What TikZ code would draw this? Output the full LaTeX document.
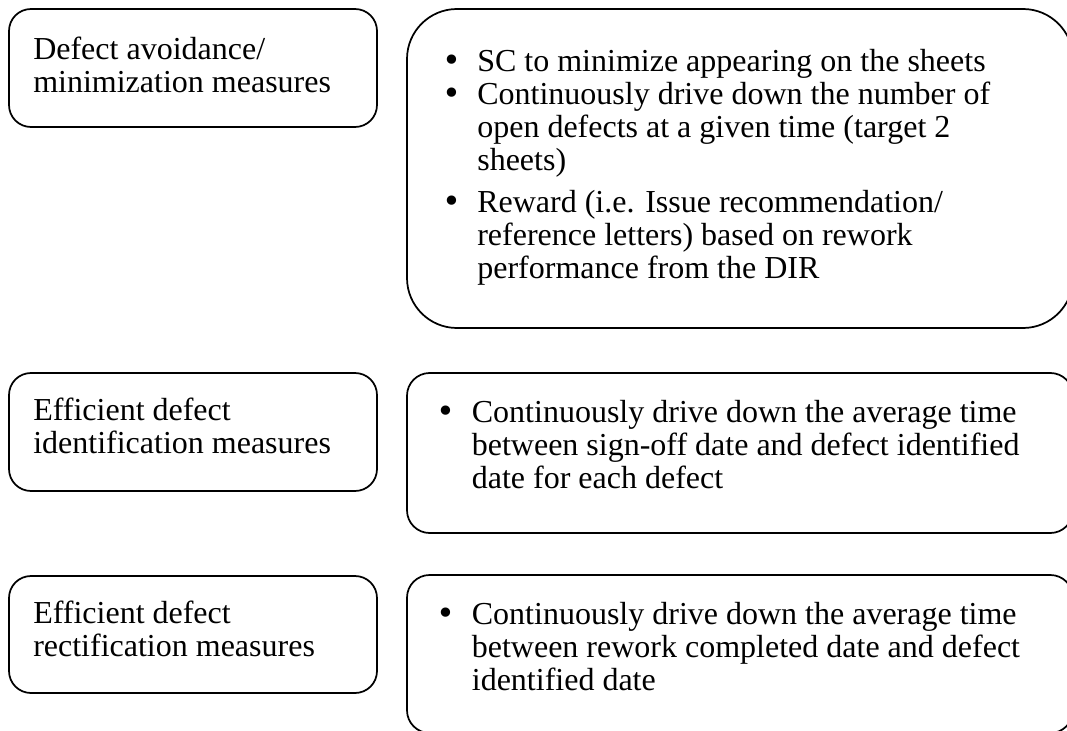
\documentclass[tikz,border=0pt]{standalone}
\usepackage{fontspec}
\setmainfont{Liberation Serif}
\newfontfamily\bulfont{DejaVu Sans}
\newcommand\bulA{\makebox[26.3pt][l]{\bulfont •}}
\newcommand\bulB{\makebox[26.7pt][l]{\bulfont •}}
\begin{document}
\begin{tikzpicture}[x=0.75pt,y=-0.75pt]
\tikzset{
  lbox/.style={draw, line width=1.3pt, rounded corners=16.5pt},
  rbig/.style={draw, line width=1.3pt, rounded corners=37.5pt},
  rsmall/.style={draw, line width=1.3pt, rounded corners=17pt},
  txt/.style={inner sep=0pt, anchor=west, font=\fontsize{24}{24.75}\selectfont}
}
\useasboundingbox (0,0) rectangle (1067,731);
\clip (0,0) rectangle (1067,731);
% left boxes
\draw[lbox] (9,9) rectangle (377,127);
\draw[lbox] (9,373) rectangle (377,491);
\draw[lbox] (9,576) rectangle (377,693);
% right boxes
\draw[rbig] (407,9) rectangle (1073,328);
\draw[rsmall] (407,373) rectangle (1073,533);
\draw[rsmall] (407,575) rectangle (1073,733);
% left texts
\node[txt] (l1) at (33,69) {\begin{tabular}{@{}l@{}}Defect avoidance/\\minimization measures\end{tabular}};
\node[txt] (l2) at (33,430) {\begin{tabular}{@{}l@{}}Efficient defect\\identification measures\end{tabular}};
\node[txt] (l3) at (33,633) {\begin{tabular}{@{}l@{}}Efficient defect\\rectification measures\end{tabular}};
% right texts
\node[txt] (r1) at (442,168) {\begin{tabular}{@{}l@{}}
\bulA SC to minimize appearing on the sheets\\
\bulA Continuously drive down the number of\\
\hspace{26.3pt}open defects at a given time (target 2\\
\hspace{26.3pt}sheets)\\[6.75pt]
\bulA Reward (i.e. Issue recommendation/\\
\hspace{26.3pt}reference letters) based on rework\\
\hspace{26.3pt}performance from the DIR
\end{tabular}};
\node[txt] (r2) at (436,448.5) {\begin{tabular}{@{}l@{}}
\bulB Continuously drive down the average time\\
\hspace{26.7pt}between sign-off date and defect identified\\
\hspace{26.7pt}date for each defect
\end{tabular}};
\node[txt] (r3) at (436,650.5) {\begin{tabular}{@{}l@{}}
\bulB Continuously drive down the average time\\
\hspace{26.7pt}between rework completed date and defect\\
\hspace{26.7pt}identified date
\end{tabular}};
\end{tikzpicture}
\end{document}
